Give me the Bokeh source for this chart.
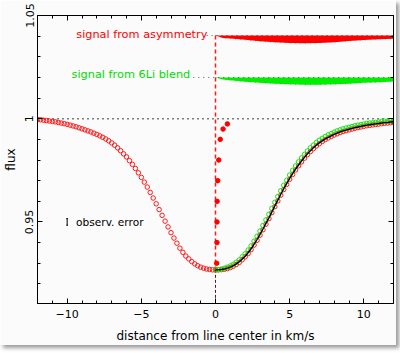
from bokeh.plotting import figure
from bokeh.models import Range1d, LinearAxis, FixedTicker, Label
from bokeh.embed import file_html
from bokeh.resources import INLINE

# ---------------- data ----------------
dist_right = [0.0, 0.2, 0.4, 0.6, 0.8, 1.0, 1.2, 1.4, 1.6, 1.8,
              2.0, 2.2, 2.4, 2.6, 2.8, 3.0, 3.2, 3.4, 3.6, 3.8,
              4.0, 4.2, 4.4, 4.6, 4.8, 5.0, 5.2, 5.4, 5.6, 5.8,
              6.0, 6.2, 6.4, 6.6, 6.8, 7.0, 7.2, 7.4, 7.6, 7.8,
              8.0, 8.2, 8.4, 8.6, 8.8, 9.0, 9.2, 9.4, 9.6, 9.8,
              10.0, 10.2, 10.4, 10.6, 10.8, 11.0, 11.2, 11.4, 11.6, 11.8,
              12.0]
dist_left = [-12.0, -11.8, -11.6, -11.4, -11.2, -11.0, -10.8, -10.6, -10.4, -10.2,
             -10.0, -9.8, -9.6, -9.4, -9.2, -9.0, -8.8, -8.6, -8.4, -8.2,
             -8.0, -7.8, -7.6, -7.4, -7.2, -7.0, -6.8, -6.6, -6.4, -6.2,
             -6.0, -5.8, -5.6, -5.4, -5.2, -5.0, -4.8, -4.6, -4.4, -4.2,
             -4.0, -3.8, -3.6, -3.4, -3.2, -3.0, -2.8, -2.6, -2.4, -2.2,
             -2.0, -1.8, -1.6, -1.4, -1.2, -1.0, -0.8, -0.6, -0.4, -0.2,
             0.0]

# red open circles, blue wing mirrored (left side)
flux_left = [0.9996, 0.9995, 0.9993, 0.9991, 0.9989, 0.9987, 0.9985, 0.9982, 0.9979, 0.9976,
             0.9973, 0.9969, 0.9965, 0.9961, 0.9956, 0.9951, 0.9946, 0.9941, 0.9936, 0.9930,
             0.9924, 0.9917, 0.9910, 0.9902, 0.9893, 0.9883, 0.9872, 0.9859, 0.9845, 0.9830,
             0.9815, 0.9797, 0.9779, 0.9759, 0.9738, 0.9716, 0.9693, 0.9669, 0.9643, 0.9616,
             0.9588, 0.9560, 0.9532, 0.9504, 0.9476, 0.9448, 0.9422, 0.9397, 0.9373, 0.9353,
             0.9335, 0.9321, 0.9308, 0.9297, 0.9288, 0.9281, 0.9276, 0.9272, 0.9270, 0.9268,
             0.9268]
# black line (symmetric model), right side
flux_model = [0.9268, 0.9268, 0.9270, 0.9272, 0.9276, 0.9281, 0.9288, 0.9297, 0.9307, 0.9320,
              0.9334, 0.9351, 0.9370, 0.9392, 0.9415, 0.9440, 0.9466, 0.9493, 0.9520, 0.9549,
              0.9578, 0.9606, 0.9634, 0.9661, 0.9686, 0.9711, 0.9734, 0.9756, 0.9776, 0.9795,
              0.9813, 0.9830, 0.9845, 0.9859, 0.9872, 0.9883, 0.9893, 0.9902, 0.9910, 0.9917,
              0.9924, 0.9930, 0.9936, 0.9941, 0.9945, 0.9949, 0.9953, 0.9957, 0.9960, 0.9963,
              0.9966, 0.9969, 0.9971, 0.9973, 0.9975, 0.9977, 0.9979, 0.9981, 0.9982, 0.9984,
              0.9985]
# green open circles: profile with 6Li blend
flux_blend = [0.9268, 0.9269, 0.9272, 0.9276, 0.9281, 0.9287, 0.9295, 0.9305, 0.9316, 0.9331,
              0.9346, 0.9364, 0.9384, 0.9407, 0.9431, 0.9456, 0.9483, 0.9510, 0.9537, 0.9566,
              0.9595, 0.9623, 0.9651, 0.9678, 0.9702, 0.9727, 0.9750, 0.9771, 0.9791, 0.9810,
              0.9827, 0.9844, 0.9859, 0.9872, 0.9885, 0.9896, 0.9905, 0.9914, 0.9922, 0.9928,
              0.9935, 0.9941, 0.9946, 0.9951, 0.9955, 0.9958, 0.9962, 0.9966, 0.9969, 0.9971,
              0.9974, 0.9977, 0.9979, 0.9980, 0.9982, 0.9984, 0.9986, 0.9988, 0.9988, 0.9990,
              0.9991]
# red open circles, red wing (asymmetric profile)
flux_asym = [0.9268, 0.9268, 0.9269, 0.9271, 0.9274, 0.9279, 0.9286, 0.9294, 0.9304, 0.9317,
             0.9331, 0.9347, 0.9366, 0.9388, 0.9411, 0.9436, 0.9462, 0.9489, 0.9516, 0.9545,
             0.9574, 0.9602, 0.9630, 0.9657, 0.9682, 0.9707, 0.9730, 0.9752, 0.9772, 0.9791,
             0.9809, 0.9826, 0.9841, 0.9855, 0.9868, 0.9879, 0.9890, 0.9899, 0.9907, 0.9914,
             0.9921, 0.9927, 0.9933, 0.9938, 0.9942, 0.9946, 0.9950, 0.9954, 0.9957, 0.9960,
             0.9963, 0.9966, 0.9968, 0.9970, 0.9972, 0.9974, 0.9976, 0.9978, 0.9979, 0.9981,
             0.9982]

# line bisector (filled red dots)
bisector_x = [0.08, 0.10, 0.10, 0.11, 0.15, 0.22, 0.32, 0.51, 0.80]
bisector_flux = [0.93, 0.94, 0.95, 0.96, 0.97, 0.98, 0.99, 0.995, 0.9975]

# amplified signals
band_x = [0.0, 0.5, 1, 2, 3, 4, 5, 6, 7, 8, 9, 10, 11, 12]
asym_base = 1.0403
asym_low = [1.0403, 1.0391, 1.0388, 1.0382, 1.0375, 1.0370, 1.0367, 1.0366, 1.0367,
            1.0371, 1.0376, 1.0381, 1.0385, 1.0387]
blend_base = 1.0200
blend_low = [1.0200, 1.0190, 1.0186, 1.0179, 1.0174, 1.0170, 1.0167, 1.0165, 1.0165,
             1.0167, 1.0170, 1.0174, 1.0177, 1.0180]

continuum = 1.0
err_x, err_y, err_half = -10.0, 0.95, 0.0016

x_major = [-10, -5, 0, 5, 10]
x_minor = list(range(-12, 13))
y_major = [0.95, 1.0, 1.05]
y_minor = [0.91, 0.92, 0.93, 0.94, 0.95, 0.96, 0.97, 0.98, 0.99, 1.0, 1.01, 1.02, 1.03, 1.04, 1.05]

# ---------------- figure ----------------
BG = "#fbfbfb"
FONT = "DejaVu Sans"
RED = "#ff1a1a"
GREEN = "#12e612"

p = figure(frame_width=356, frame_height=288,
           x_range=Range1d(-12, 12), y_range=Range1d(0.9105, 1.05),
           output_backend="svg", toolbar_location=None,
           min_border_left=37, min_border_right=3, min_border_top=15, min_border_bottom=42,
           background_fill_color=BG, border_fill_color=BG,
           outline_line_color="black", outline_line_width=1,
           x_axis_label="distance from line center in km/s", y_axis_label="flux",
           styles={"box-shadow": "3px 3px 4px #9a9a9a"})
p.grid.visible = False

xt = FixedTicker(ticks=x_major, minor_ticks=x_minor)
yt = FixedTicker(ticks=y_major, minor_ticks=y_minor)


def style_axis(ax, show_labels=True):
    ax.major_tick_in = 5
    ax.major_tick_out = 0
    ax.minor_tick_in = 3
    ax.minor_tick_out = 0
    ax.axis_line_color = "black"
    ax.major_tick_line_color = "black"
    ax.minor_tick_line_color = "black"
    ax.major_label_text_font = FONT
    ax.major_label_text_color = "black"
    ax.axis_label_text_font = FONT
    ax.axis_label_text_font_style = "normal"
    ax.axis_label_text_font_size = "12px"
    ax.axis_label_text_color = "black"
    if show_labels:
        ax.major_label_text_font_size = "11px"
    else:
        ax.major_label_text_font_size = "1px"
        ax.major_label_text_color = None
        ax.major_label_standoff = 0


xa = p.xaxis[0]
xa.ticker = xt
style_axis(xa)
xa.major_label_standoff = 6
xa.axis_label_standoff = 8
xa.major_label_overrides = {-10: "\u221210", -5: "\u22125", 0: "0", 5: "5", 10: "10"}

ya = p.yaxis[0]
ya.ticker = yt
style_axis(ya)
ya.major_label_orientation = "vertical"
ya.major_label_standoff = 4
ya.axis_label_standoff = 5
ya.major_label_overrides = {0.95: "0.95", 1.0: "1", 1.05: "1.05"}

top = LinearAxis(ticker=xt)
style_axis(top, show_labels=False)
p.add_layout(top, "above")
right = LinearAxis(ticker=yt)
style_axis(right, show_labels=False)
p.add_layout(right, "right")

# continuum dotted line
p.line([x_minor[0], x_minor[-1]], [continuum, continuum], line_color="black",
       line_dash="1 4", line_width=1.3)

# vertical line at line centre
p.line([0, 0], [asym_base, flux_model[0]], line_color=RED, line_dash="4 3", line_width=1.5)
p.line([0, 0], [flux_model[0], 0.9105], line_color="#5a1a1a", line_dash="3 2", line_width=1)

# amplified signal bands
p.varea(x=band_x, y1=[asym_base] * len(band_x), y2=asym_low, fill_color="#ff0000")
p.varea(x=band_x, y1=[blend_base] * len(band_x), y2=blend_low, fill_color="#00ee00")
p.line([-0.6, band_x[-1]], [asym_base, asym_base], line_color="#333333", line_dash="1 4",
       line_width=1, line_alpha=0.8)
p.line([-1.5, band_x[-1]], [blend_base, blend_base], line_color="#333333", line_dash="1 4",
       line_width=1, line_alpha=0.8)
p.line(band_x, asym_low, line_color="#993333", line_dash="1 4", line_width=1, line_alpha=0.5)
p.line(band_x, blend_low, line_color="#339933", line_dash="1 4", line_width=1, line_alpha=0.5)

# profiles
p.scatter(dist_left, flux_left, marker="circle", size=4.5, fill_color=None,
          line_color=RED, line_width=1)
p.scatter(dist_right, flux_asym, marker="circle", size=4.5, fill_color=None,
          line_color=RED, line_width=1)
p.scatter(dist_right, flux_blend, marker="circle", size=4.5, fill_color=None,
          line_color=GREEN, line_width=1)
p.line(dist_right, flux_model, line_color="black", line_width=1.4)

# bisector
p.scatter(bisector_x, bisector_flux, marker="circle", size=4.5, fill_color="#ff0000",
          line_color="#ff0000")

# error bar
p.segment(x0=[err_x], y0=[err_y - err_half], x1=[err_x], y1=[err_y + err_half],
          line_color="black", line_width=1)
p.segment(x0=[err_x - 0.06, err_x - 0.06], y0=[err_y - err_half, err_y + err_half],
          x1=[err_x + 0.06, err_x + 0.06], y1=[err_y - err_half, err_y + err_half],
          line_color="black", line_width=1)

# texts
p.add_layout(Label(x=-0.55, y=1.0409, text="signal from asymmetry", text_align="right",
                   text_baseline="middle", text_font=FONT, text_font_size="11.3px",
                   text_color="#ff0000"))
p.add_layout(Label(x=-1.7, y=1.0213, text="signal from 6Li blend", text_align="right",
                   text_baseline="middle", text_font=FONT, text_font_size="11.3px",
                   text_color="#00dd00"))
p.add_layout(Label(x=-9.4, y=0.95, text="observ. error", text_align="left",
                   text_baseline="middle", text_font=FONT, text_font_size="10.6px",
                   text_color="black"))

open("out.html", "w").write(file_html(p, INLINE))
